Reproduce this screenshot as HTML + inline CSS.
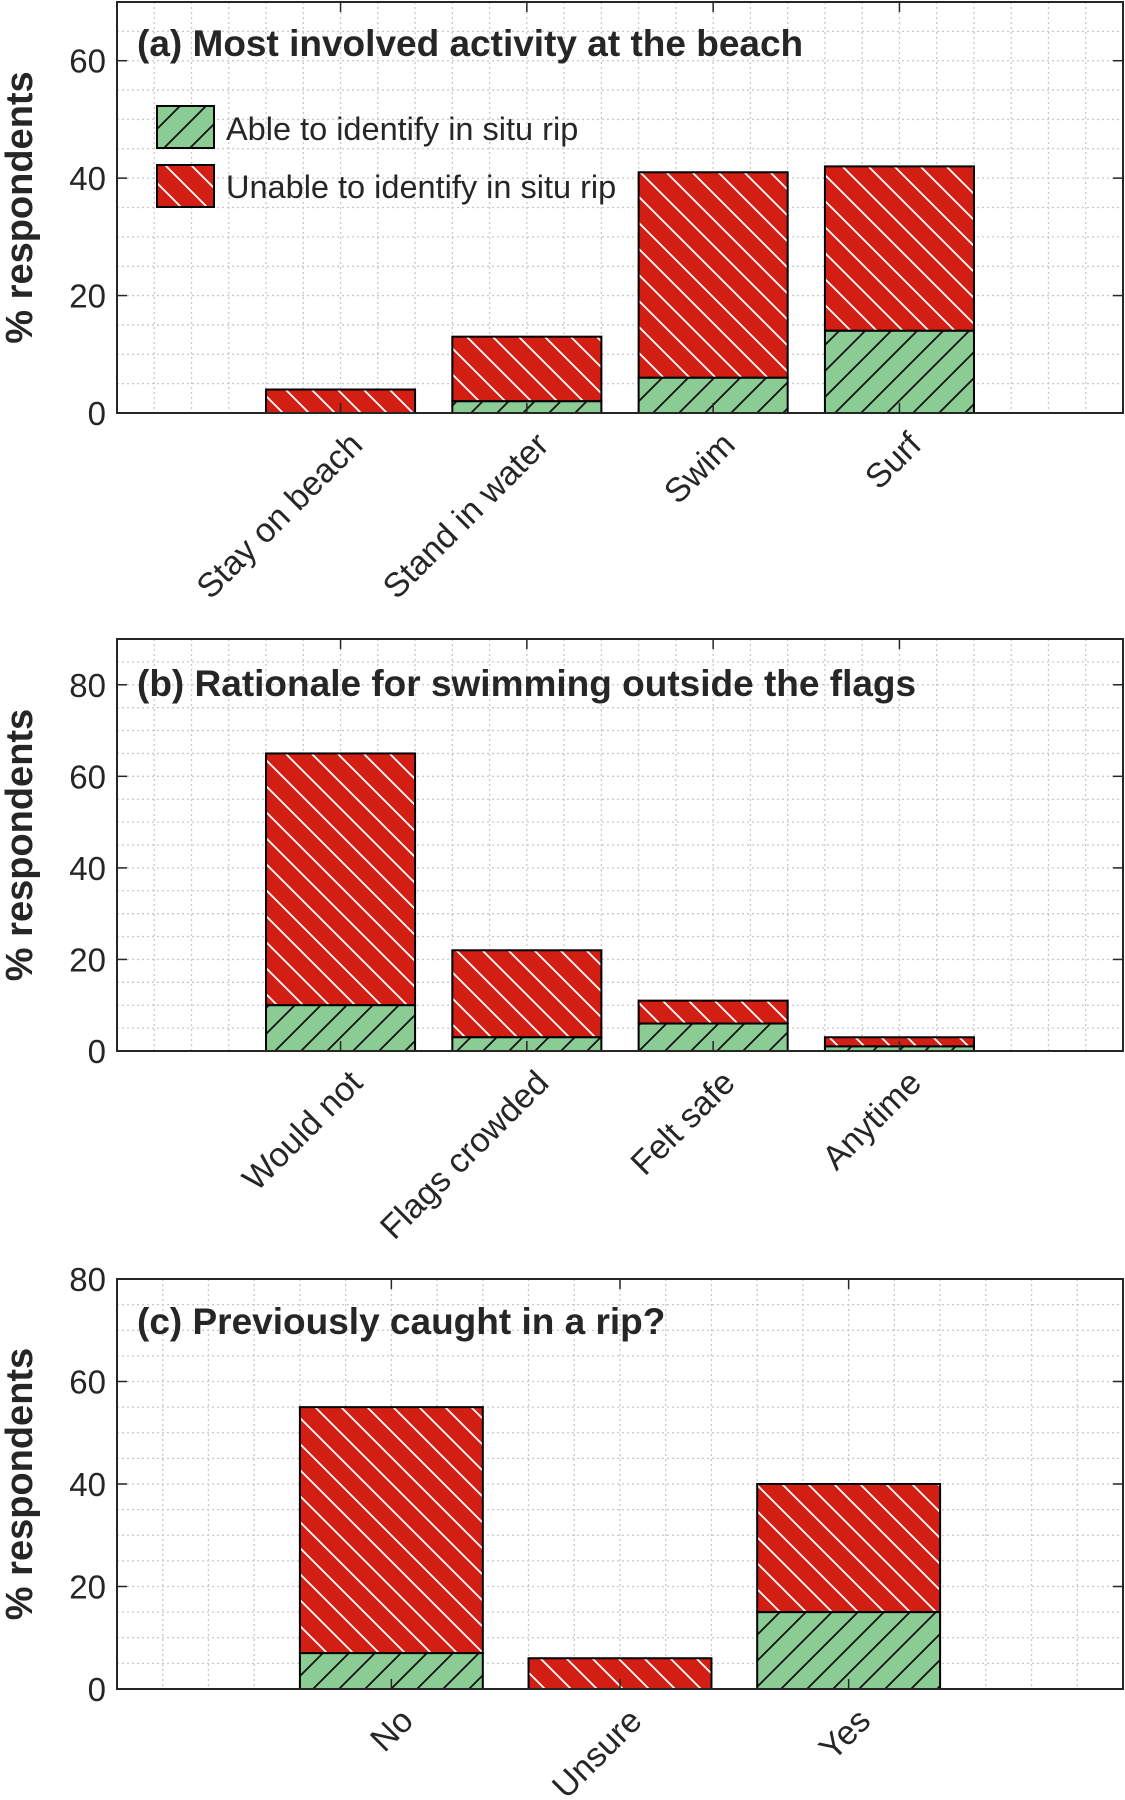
<!DOCTYPE html>
<html><head><meta charset="utf-8"><style>
html,body{margin:0;padding:0;background:#fff}
svg{display:block}
text{font-family:"Liberation Sans",sans-serif;fill:#262626}
</style></head><body>
<svg id="fig" width="1125" height="1800" viewBox="0 0 1125 1800" xmlns="http://www.w3.org/2000/svg">
<defs>
<pattern id="hatchG" patternUnits="userSpaceOnUse" width="26" height="26">
<rect width="26" height="26" fill="#8BCC95"/>
<path d="M-2,28 L28,-2 M-2,2 L2,-2 M24,28 L28,24" stroke="#111" stroke-width="1.8"/>
</pattern>
<pattern id="hatchR" patternUnits="userSpaceOnUse" width="26" height="26">
<rect width="26" height="26" fill="#D21E13"/>
<path d="M-2,-2 L28,28 M24,-2 L28,2 M-2,24 L2,28" stroke="#fff" stroke-width="1.8"/>
</pattern>
</defs>
</svg>
<script>
const catsA=["Stay on beach","Stand in water","Swim","Surf"];
const greenA=[0,2,6,14];
const totalA=[4,13,41,42];
const ticksA=[0,20,40,60];
const catsB=["Would not","Flags crowded","Felt safe","Anytime"];
const greenB=[10,3,6,1];
const totalB=[65,22,11,3];
const ticksB=[0,20,40,60,80];
const catsC=["No","Unsure","Yes"];
const greenC=[7,0,15];
const totalC=[55,6,40];
const ticksC=[0,20,40,60,80];

const NS="http://www.w3.org/2000/svg";
const svg=document.getElementById('fig');
function mk(tag,attrs,parent){const e=document.createElementNS(NS,tag);for(const k in attrs)e.setAttribute(k,attrs[k]);(parent||svg).appendChild(e);return e;}

function panel(cfg){
  const g=mk('g',{});
  
  
  const L=117,R=1123,T=cfg.top,B=cfg.bottom;
  const xmin=-0.2,xmax=cfg.cats.length+1.2;
  const sx=v=>L+(v-xmin)/(xmax-xmin)*(R-L);
  const sy=v=>B-(v/cfg.ymax)*(B-T);
  for(let k=1;k*0.2<xmax-xmin-0.01;k++){const x=sx(xmin+k*0.2);const gl=mk('line',{x1:x,x2:x,y1:T,y2:B,stroke:'#c8c8c8','stroke-width':1.3,'stroke-dasharray':'2,3'},g);}
  for(let v=5;v<cfg.ymax;v+=5){const y=sy(v);const gl=mk('line',{x1:L,x2:R,y1:y,y2:y,stroke:'#c8c8c8','stroke-width':1.3,'stroke-dasharray':'2,3'},g);}
  const bw=0.8;
  cfg.cats.forEach((c,i)=>{
    const xc=i+1,x0=sx(xc-bw/2),w=sx(xc+bw/2)-x0;
    const gr=cfg.green[i],tot=cfg.total[i];
    if(tot>gr){const r=mk('rect',{x:x0,y:sy(tot),width:w,height:sy(gr)-sy(tot),fill:'url(#hatchR)',stroke:'#000','stroke-width':2},g);
      
      }
    if(gr>0){const r=mk('rect',{x:x0,y:sy(gr),width:w,height:sy(0)-sy(gr),fill:'url(#hatchG)',stroke:'#000','stroke-width':2},g);
      
      }
    mk('line',{x1:sx(xc),x2:sx(xc),y1:B,y2:B-10,stroke:'#262626','stroke-width':1.5},g);
    mk('line',{x1:sx(xc),x2:sx(xc),y1:T,y2:T+10,stroke:'#262626','stroke-width':1.5},g);
    const tx=sx(xc)+16,ty=B+26;
    const t=mk('text',{x:tx,y:ty,'text-anchor':'end','font-size':34,transform:`rotate(-45 ${tx} ${ty})`,'dominant-baseline':'central'},g);
    t.textContent=c;
    
    
  });
  const ax=mk('rect',{x:L,y:T,width:R-L,height:B-T,fill:'none',stroke:'#262626','stroke-width':2},g);
  
  
  cfg.ticks.forEach(v=>{
    const y=sy(v);
    mk('line',{x1:L,x2:L+10,y1:y,y2:y,stroke:'#262626','stroke-width':1.5},g);
    mk('line',{x1:R,x2:R-10,y1:y,y2:y,stroke:'#262626','stroke-width':1.5},g);
    const t=mk('text',{x:L-11,y:y+12,'text-anchor':'end','font-size':33},g);
    t.textContent=v;
    
    
  });
  const yl=mk('text',{x:32,y:(T+B)/2,'text-anchor':'middle','font-size':38,'font-weight':'bold',transform:`rotate(-90 32 ${(T+B)/2})`},g);
  yl.textContent='% respondents';
  
  
  const ti=mk('text',{x:137,y:cfg.titleY,'font-size':37,'font-weight':'bold',fill:'#000'},g);
  ti.textContent=cfg.title;
  
  
}
panel({name:'panel-a',top:2,bottom:413,ymax:70,cats:catsA,green:greenA,total:totalA,ticks:ticksA,title:'(a) Most involved activity at the beach',titleY:56});
panel({name:'panel-b',top:639,bottom:1051,ymax:90,cats:catsB,green:greenB,total:totalB,ticks:ticksB,title:'(b) Rationale for swimming outside the flags',titleY:696});
panel({name:'panel-c',top:1279,bottom:1689,ymax:80,cats:catsC,green:greenC,total:totalC,ticks:ticksC,title:'(c) Previously caught in a rip?',titleY:1334});

const lg=mk('g',{});


const l1=mk('rect',{x:157,y:106,width:57,height:42,fill:'url(#hatchG)',stroke:'#000','stroke-width':2},lg);


const l2=mk('rect',{x:157,y:165,width:57,height:42,fill:'url(#hatchR)',stroke:'#000','stroke-width':2},lg);


const t1=mk('text',{x:226,y:140,'font-size':32.5,fill:'#000'},lg);t1.textContent='Able to identify in situ rip';


const t2=mk('text',{x:226,y:198,'font-size':32.5,fill:'#000'},lg);t2.textContent='Unable to identify in situ rip';


</script>
</body></html>
